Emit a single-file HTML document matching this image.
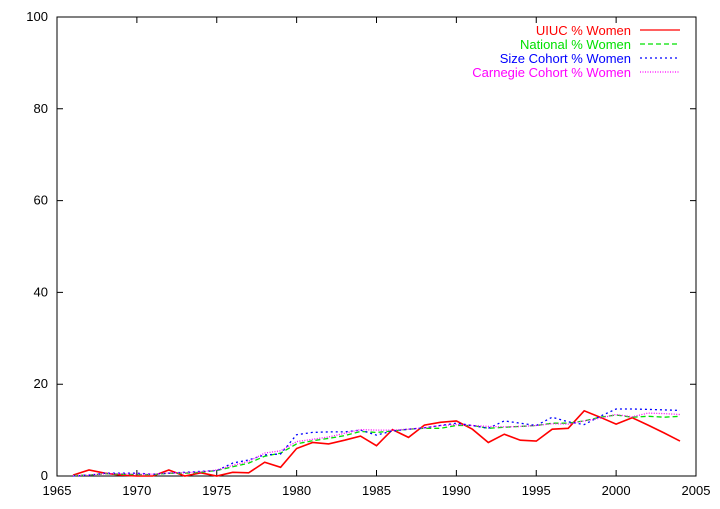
<!DOCTYPE html>
<html><head><meta charset="utf-8"><style>
body{margin:0;background:#fff;width:720px;height:504px;overflow:hidden}
svg text{font-family:"Liberation Sans",sans-serif;font-size:13px}
</style></head><body>
<svg id="chart" width="720" height="504" xmlns="http://www.w3.org/2000/svg">
<g id="axes"></g><g id="series"></g><g id="legend"></g>
</svg>
<script>
const years=[];for(let y=1966;y<=2004;y++)years.push(y);
const uiuc=[0.2,1.3,0.6,0.2,0,0,1.3,0,0.7,0,0.8,0.7,3.0,1.9,6.0,7.3,7.0,7.8,8.7,6.6,10.1,8.4,11.1,11.7,12.0,10.2,7.3,9.1,7.8,7.6,10.2,10.4,14.2,12.8,11.3,12.7,11.1,9.4,7.6];
const national=[0.1,0.2,0.5,0.4,0.3,0.3,0.6,0.6,0.8,1.2,2.0,2.8,4.3,5.0,7.0,7.7,8.2,8.8,9.7,9.5,9.8,10.2,10.4,10.4,11.0,11.0,10.4,10.6,10.8,11.0,11.5,11.5,12.0,12.8,13.3,12.8,13.0,12.8,13.0];
const sizeCohort=[0,0.2,0.6,0.6,0.6,0.4,0.6,0.8,1.0,1.2,2.8,3.5,4.6,4.8,9.0,9.5,9.6,9.6,10.0,8.9,9.8,10.2,10.5,11.0,11.5,11.0,10.4,12.0,11.5,11.0,12.8,11.8,11.2,13.0,14.6,14.6,14.5,14.4,14.3];
const carnegie=[0.1,0.2,0.5,0.5,0.4,0.4,0.7,0.7,0.9,1.3,2.3,3.2,5.0,5.5,7.5,8.0,8.5,9.3,10.1,10.0,10.0,10.2,10.5,11.0,11.2,11.0,10.8,10.7,10.8,11.0,11.4,11.3,12.0,12.6,13.4,12.9,13.7,13.6,13.4];
const xTicks=[1965,1970,1975,1980,1985,1990,1995,2000,2005];
const yTicks=[0,20,40,60,80,100];
const X0=57,X1=696,Y0=476,Y1=17;
const xs=v=>X0+(v-1965)/40*(X1-X0);
const ys=v=>Y0-v/100*(Y0-Y1);
const NS="http://www.w3.org/2000/svg";
function mk(tag,attrs,parent){const e=document.createElementNS(NS,tag);for(const k in attrs)e.setAttribute(k,attrs[k]);parent.appendChild(e);return e;}
const ax=document.getElementById('axes');
const frame=mk('rect',{x:X0,y:Y1,width:X1-X0,height:Y0-Y1,fill:'none',stroke:'#000','stroke-width':1},ax);


xTicks.forEach(t=>{
 const x=xs(t);
 const l=mk('path',{d:`M${x},${Y0}v-6M${x},${Y1}v6`,stroke:'#000'},ax);
 
 
 const tx=mk('text',{x:x,y:Y0+19,'text-anchor':'middle'},ax);tx.textContent=t;
 
 
});
yTicks.forEach(t=>{
 const y=ys(t);
 const l=mk('path',{d:`M${X0},${y}h6M${X1},${y}h-6`,stroke:'#000'},ax);
 
 
 const tx=mk('text',{x:X0-9,y:y+4,'text-anchor':'end'},ax);tx.textContent=t;
 
 
});
const defs=[
 {name:'UIUC % Women',data:uiuc,color:'#ff0000',dash:'',key:'uiuc'},
 {name:'National % Women',data:national,color:'#00e000',dash:'5,3',key:'national'},
 {name:'Size Cohort % Women',data:sizeCohort,color:'#0000ff',dash:'2,3',key:'size-cohort'},
 {name:'Carnegie Cohort % Women',data:carnegie,color:'#ff00ff',dash:'1,1.5',key:'carnegie-cohort'}
];
const sg=document.getElementById('series'),lg=document.getElementById('legend');
defs.forEach((s,i)=>{
 const d=s.data.map((v,j)=>(j?'L':'M')+xs(years[j]).toFixed(1)+','+ys(v).toFixed(1)).join('');
 const p=mk('path',{d:d,fill:'none',stroke:s.color,'stroke-width':s.key==='uiuc'?1.6:1.3,'stroke-dasharray':s.dash},sg);
 
 
 const ly=30+i*14;
 const t=mk('text',{x:631,y:ly+5,'text-anchor':'end',fill:s.color},lg);t.textContent=s.name;
 
 
 const l=mk('path',{d:`M640,${ly}H680`,stroke:s.color,'stroke-width':1.3,'stroke-dasharray':s.dash},lg);
 
 
});
</script>
</body></html>
